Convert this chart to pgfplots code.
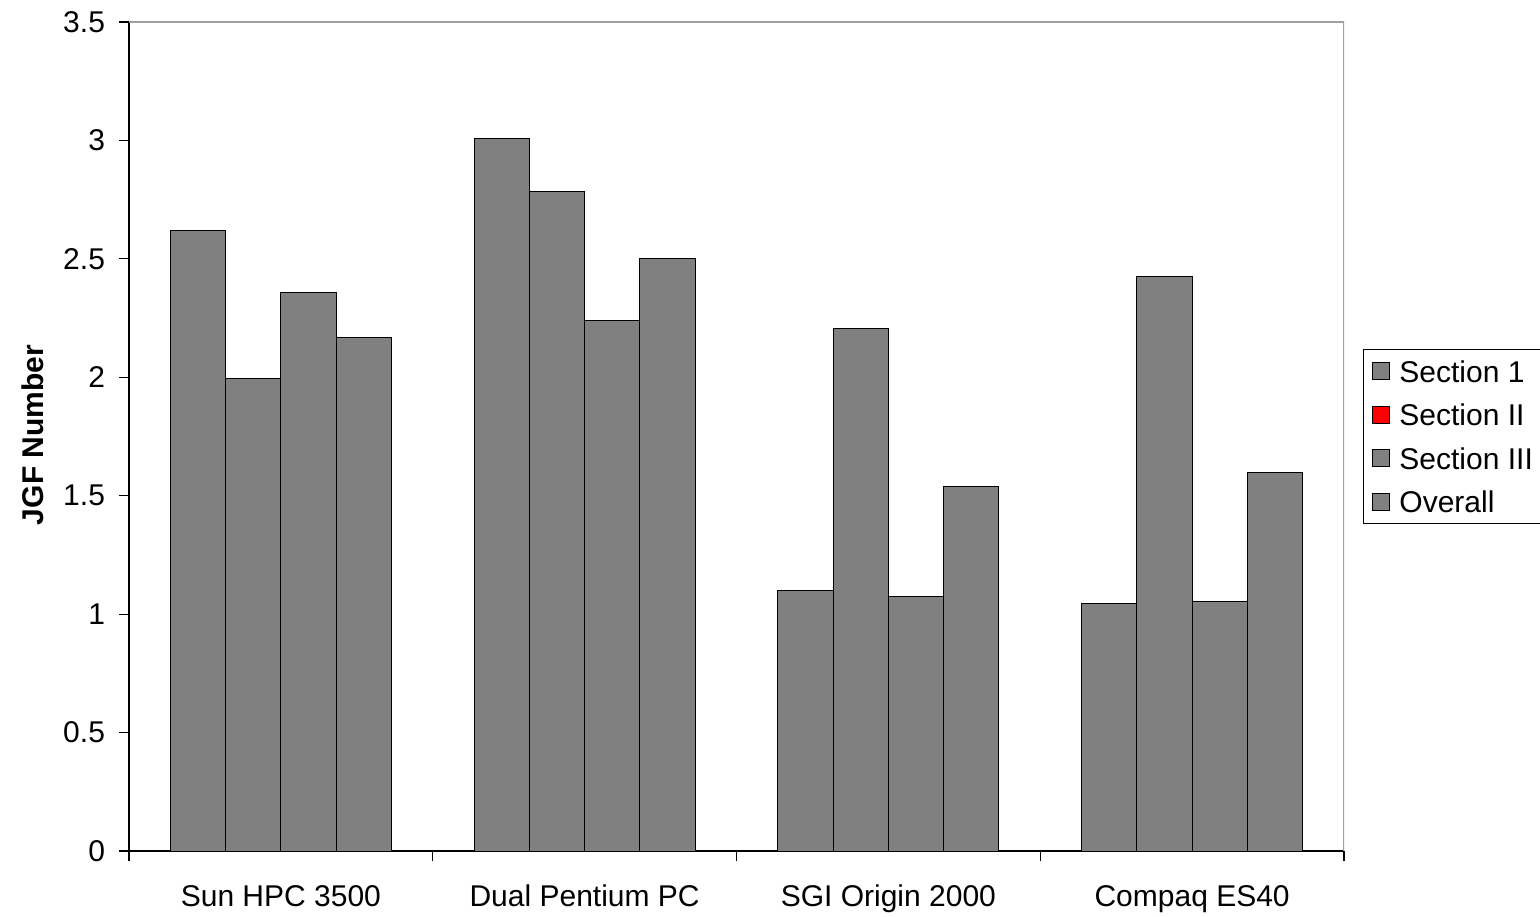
\documentclass[border=0pt]{standalone}
\usepackage{pgfplots}
\pgfplotsset{compat=1.18}
\usepackage{fontspec}
\setmainfont{Liberation Sans}
\newcommand\f{\fontsize{15}{18}\selectfont}
\definecolor{bargray}{HTML}{808080}
\definecolor{framegray}{HTML}{A0A0A0}
\begin{document}
\begin{tikzpicture}
\useasboundingbox (0,0) rectangle (770pt,458pt);
\clip (0,0) rectangle (770pt,458pt);
\begin{axis}[
  at={(64.5pt,32.5pt)}, anchor=south west,
  scale only axis, width=607.5pt, height=414.5pt,
  ybar=0pt, bar width=27.65pt,
  xmin=-0.5, xmax=3.5, ymin=0, ymax=3.5,
  axis lines*=left, axis line style={-, black, line width=0.6pt},
  ytick={0,0.5,1,1.5,2,2.5,3,3.5},
  xtick={-0.5,0.5,1.5,2.5,3.5},
  x tick label as interval,
  xticklabels={Sun HPC 3500, Dual Pentium PC, SGI Origin 2000, Compaq ES40},
  tick align=outside, major tick length=5pt,
  tick style={black, line width=0.6pt},
  /pgf/number format/assume math mode=true,
  ticklabel style={font=\f},
  xticklabel style={yshift=-8.5pt},
  yticklabel style={xshift=-3.5pt},
  legend image code/.code={\draw[#1] (1.5pt,-4.25pt) rectangle (10pt,4.25pt); \path[draw=none, fill=none] (0pt,0pt) -- (13pt,0pt);},
  legend style={at={(axis description cs:1.0156,0.6056)}, anchor=north west,
    draw=black, line width=0.5pt, font=\f, row sep=3.75pt,
    nodes={inner sep=2pt, text height=12.5pt, text depth=1.5pt}},
  legend cell align=left,
]
\addplot[fill=bargray, draw=black, line width=0.5pt, bar shift=-41.475pt, forget plot] coordinates {(0,2.62) (1,3.01) (2,1.10) (3,1.045)};
\addplot[fill=bargray, draw=black, line width=0.5pt, bar shift=-13.825pt, forget plot] coordinates {(0,1.995) (1,2.785) (2,2.205) (3,2.425)};
\addplot[fill=bargray, draw=black, line width=0.5pt, bar shift=13.825pt, forget plot] coordinates {(0,2.36) (1,2.24) (2,1.075) (3,1.055)};
\addplot[fill=bargray, draw=black, line width=0.5pt, bar shift=41.475pt, forget plot] coordinates {(0,2.17) (1,2.50) (2,1.54) (3,1.60)};
\addlegendimage{fill=bargray, draw=black, line width=0.5pt}
\addlegendentry{Section 1}
\addlegendimage{fill=red, draw=black, line width=0.5pt}
\addlegendentry{Section II}
\addlegendimage{fill=bargray, draw=black, line width=0.5pt}
\addlegendentry{Section III}
\addlegendimage{fill=bargray, draw=black, line width=0.5pt}
\addlegendentry{Overall}
\draw[framegray, line width=0.6pt] (rel axis cs:0,1) -- (rel axis cs:1,1) -- (rel axis cs:1,0);
\end{axis}
\node[rotate=90, font=\f\bfseries] at (16.5pt,240.5pt) {JGF Number};
\end{tikzpicture}
\end{document}
